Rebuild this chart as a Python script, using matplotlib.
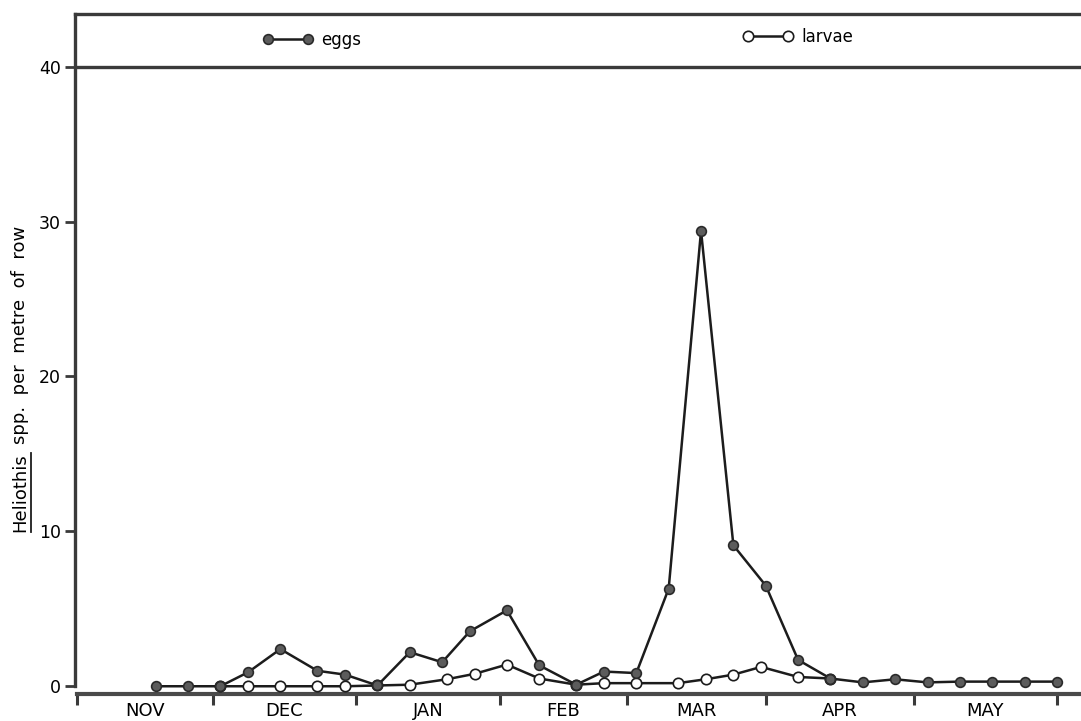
import matplotlib
matplotlib.use("Agg")
import matplotlib.pyplot as plt
from matplotlib.lines import Line2D
from matplotlib.font_manager import FontProperties

plt.rcParams['font.family'] = ['DejaVu Sans']

# sampling dates as days after 1 November, counts per metre of row
egg_days = [17, 24, 31, 37, 44, 52, 58, 65, 72, 79, 85, 93, 100, 108, 114,
            121, 128, 135, 142, 149, 156, 163, 170, 177, 184, 191, 198, 205, 212]
eggs = [0, 0, 0, 0.9, 2.4, 1.0, 0.75, 0.05, 2.2, 1.55, 3.55, 4.9, 1.35, 0.1, 0.95,
        0.85, 6.3, 29.4, 9.1, 6.5, 1.7, 0.5, 0.25, 0.45, 0.25, 0.3, 0.3, 0.3, 0.3]

larvae_days = [31, 37, 44, 52, 58, 65, 72, 80, 86, 93, 100, 108, 114, 121,
               130, 136, 142, 148, 156, 163]
larvae = [0, 0, 0, 0, 0, 0.05, 0.1, 0.45, 0.8, 1.4, 0.5, 0.1, 0.2, 0.2,
          0.2, 0.45, 0.75, 1.25, 0.6, 0.5]

months = ['NOV', 'DEC', 'JAN', 'FEB', 'MAR', 'APR', 'MAY']
month_edges = [0, 29.4, 60.4, 91.5, 119, 149, 181, 212]
y_ticks = [0, 10, 20, 30, 40]

W, H = 1081, 721
ink = '#1c1c1c'
axis_col = '#3a3a3a'

fig = plt.figure(figsize=(W / 100, H / 100), dpi=100)
ax = fig.add_axes([75 / W, 27 / H, 1006 / W, 680 / H])

l_larvae, = ax.plot(larvae_days, larvae, color=ink, lw=1.8, marker='o', ms=7.5,
                    mfc='white', mec=ink, mew=1.2, zorder=3)
l_eggs, = ax.plot(egg_days, eggs, color=ink, lw=1.8, marker='o', ms=7,
                  mfc='#5c5c5c', mec='#2a2a2a', mew=1.2, zorder=4)

ax.set_xlim(-0.43, 217.2)
ax.set_ylim(-0.5, 43.4)

# band at the top holding the key
ax.axhline(40, color=axis_col, lw=2.4, zorder=2)

for s in ['left', 'top', 'bottom']:
    ax.spines[s].set_linewidth(2.4)
    ax.spines[s].set_color(axis_col)
ax.spines['bottom'].set_linewidth(3)
ax.spines['bottom'].set_color('#4a4a4a')
ax.spines['right'].set_visible(False)
ax.spines['left'].set_bounds(0, 43.4)
ax.spines['bottom'].set_bounds(0, 217.2)

ax.set_yticks(y_ticks)
ax.tick_params(axis='y', direction='out', length=7, width=2, color=axis_col,
               labelsize=12.5, pad=3)

ax.set_xticks(month_edges)
ax.set_xticklabels([])
ax.tick_params(axis='x', which='major', direction='out', length=8, width=2.2,
               color=axis_col)
mids = [(month_edges[i] + month_edges[i + 1]) / 2 for i in range(len(months))]
ax.set_xticks(mids, minor=True)
ax.set_xticklabels(months, minor=True)
ax.tick_params(axis='x', which='minor', length=0, labelsize=13, pad=6)

leg_kw = dict(loc='center left', frameon=False, numpoints=2, handlelength=3.0,
              handletextpad=0.5, borderpad=0, borderaxespad=0, fontsize=12)
leg1 = ax.legend([l_eggs], ['eggs'], bbox_to_anchor=(0.187, 0.962), **leg_kw)
ax.add_artist(leg1)
ax.legend([l_larvae], ['larvae'], bbox_to_anchor=(0.664, 0.966), **leg_kw)

# y label with underlined genus name
fp = FontProperties(family=['DejaVu Sans'], size=13)
x_lab = 20 / W
t1 = fig.text(x_lab, (H - 532) / H, 'Heliothis', rotation=90, ha='center',
              va='bottom', fontproperties=fp)
fig.canvas.draw()
r = fig.canvas.get_renderer()
bb = t1.get_window_extent(r)
_, _, desc = r.get_text_width_height_descent('Heliothis', fp, ismath=False)
fig.text(x_lab, (bb.y1 + 9) / H, 'spp.  per  metre  of  row', rotation=90,
         ha='center', va='bottom', fontproperties=fp)
ux = (bb.x1 - desc + 2) / W
fig.add_artist(Line2D([ux, ux], [bb.y0 / H, bb.y1 / H], transform=fig.transFigure,
                      color=ink, lw=1.3))

fig.savefig('out.png', dpi=100)
